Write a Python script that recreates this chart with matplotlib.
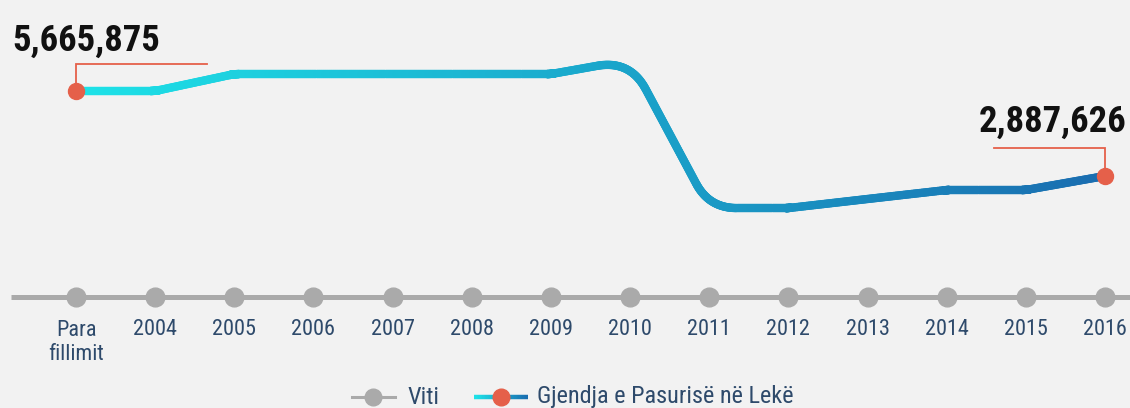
import numpy as np
import matplotlib
matplotlib.use('Agg')
import matplotlib.pyplot as plt
from matplotlib import font_manager as fm
from matplotlib.collections import LineCollection
from matplotlib.colors import LinearSegmentedColormap
from matplotlib.lines import Line2D
import matplotlib.transforms as mtransforms

# ---------------- data ----------------
categories = ['Para\nfillimit', '2004', '2005', '2006', '2007', '2008', '2009',
              '2010', '2011', '2012', '2013', '2014', '2015', '2016']
values = [5665875, 5665875, 6220000, 6220000, 6220000, 6220000, 6220000,
          6680000, 1840000, 1840000, 2136000, 2430000, 2430000, 2887626]
series_label = 'Gjendja e Pasurisë në Lekë'
axis_label = 'Viti'
first_label = '5,665,875'
last_label = '2,887,626'

# ---------------- font ----------------
names = {f.name for f in fm.fontManager.ttflist}
FONT = 'DejaVu Sans'
STRETCH = 'normal'
for cand in ['Roboto Condensed', 'Liberation Sans Narrow', 'Open Sans Condensed']:
    if cand in names:
        FONT = cand
        break
else:
    if any(f.name == 'DejaVu Sans' and str(f.stretch) in ('condensed', '400', 'semi-condensed')
           for f in fm.fontManager.ttflist):
        STRETCH = 'condensed'

BG = '#f2f2f2'
GREY = '#aaaaaa'
ORANGE = '#e5604a'
LABEL = '#2e4a6b'

W, H = 1130, 408
fig = plt.figure(figsize=(W / 100, H / 100), dpi=100, facecolor=BG)
ax = fig.add_axes([0, 0, 1, 1])
ax.set_facecolor(BG)
ax.axis('off')

n = len(categories)
xs = np.arange(n)
# layout: first point at pixel 76, last at 1105 ; first value at y-pixel 91, last at 176
px0, px1 = 76, 1105
dx = (px1 - px0) / (n - 1)
ax.set_xlim(-px0 / dx, (W - px0) / dx)
k = (values[0] - values[-1]) / (176 - 91)
ax.set_ylim(values[0] - (H - 91) * k, values[0] + 91 * k)

def px_to_x(p):
    return (p - px0) / dx

def py_to_y(p):
    return values[0] + (91 - p) * k

# ---------------- rounded gradient line ----------------
fig.canvas.draw()
pts = ax.transData.transform(np.column_stack([xs, values]))
R = 46.0  # corner radius in pixels
path = [pts[0]]
for i in range(1, n - 1):
    p_prev, p, p_next = pts[i - 1], pts[i], pts[i + 1]
    v1 = p_prev - p
    v2 = p_next - p
    l1, l2 = np.hypot(*v1), np.hypot(*v2)
    u_in = -v1 / l1
    u_out = v2 / l2
    turn = np.arccos(np.clip(np.dot(u_in, u_out), -1, 1))
    d = min(R * np.tan(turn / 2), 0.5 * l1, 0.5 * l2)
    if d < 0.5:
        path.append(p)
        continue
    a = p + v1 / l1 * d
    b = p + v2 / l2 * d
    t = np.linspace(0, 1, 24)[:, None]
    curve = (1 - t) ** 2 * a + 2 * (1 - t) * t * p + t ** 2 * b
    path.extend(list(curve))
path.append(pts[-1])
path = np.array(path)
dense = []
for i in range(len(path) - 1):
    seg_len = np.hypot(*(path[i + 1] - path[i]))
    m = max(2, int(seg_len / 2))
    tt = np.linspace(0, 1, m, endpoint=False)[:, None]
    dense.extend(list(path[i] + (path[i + 1] - path[i]) * tt))
dense.append(path[-1])
dense = ax.transData.inverted().transform(np.array(dense))

cmap = LinearSegmentedColormap.from_list('g', ['#1ee3e8', '#1aa8cc', '#1a6db0'])
segs = np.stack([dense[:-1], dense[1:]], axis=1)
mid = (segs[:, 0, 0] + segs[:, 1, 0]) / 2
cols = cmap(mid / (n - 1))
lc = LineCollection(segs, colors=cols, linewidths=6.0, capstyle='round', joinstyle='round', zorder=3)
ax.add_collection(lc)

# ---------------- x axis ----------------
blend = mtransforms.blended_transform_factory(ax.transData, ax.transAxes)
axis_y = 1 - 297 / H
ax.plot([px_to_x(11), px_to_x(W + 5)], [axis_y, axis_y], transform=blend,
        color=GREY, lw=3.6, solid_capstyle='butt', zorder=2)
ax.plot(xs, [axis_y] * n, 'o', transform=blend, color=GREY, ms=13.5, zorder=3)
line_step = 25  # pixels between label lines
for i, lab in enumerate(categories):
    extra = (lab.count('\n')) * line_step
    ax.text(i, 1 - (335 + extra) / H, lab, transform=blend, ha='center', va='baseline',
            fontsize=16, color=LABEL, family=FONT, stretch=STRETCH, linespacing=1.2)

# ---------------- annotations ----------------
ax.plot([0, 0, px_to_x(207)], [values[0], py_to_y(64), py_to_y(64)],
        color=ORANGE, lw=1.3, zorder=2, solid_joinstyle='miter')
ax.plot([n - 1, n - 1, px_to_x(994)], [values[-1], py_to_y(148), py_to_y(148)],
        color=ORANGE, lw=1.3, zorder=2, solid_joinstyle='miter')
ax.plot([0, n - 1], [values[0], values[-1]], 'o', color=ORANGE, ms=11.5, zorder=5)
fig.text(12 / W, 1 - 51 / H, first_label, ha='left', va='baseline', fontsize=26.5,
         fontweight='bold', color='#111111', family=FONT, stretch=STRETCH)
fig.text(1127 / W, 1 - 132 / H, last_label, ha='right', va='baseline', fontsize=26.5,
         fontweight='bold', color='#111111', family=FONT, stretch=STRETCH)

# ---------------- legend ----------------
ly = 1 - 397 / H
fig.add_artist(Line2D([352 / W, 395 / W], [ly, ly], color=GREY, lw=2.2))
fig.add_artist(Line2D([373 / W], [ly], marker='o', ms=12, color=GREY))
fig.text(407 / W, ly, axis_label, ha='left', va='center', fontsize=17.5,
         color=LABEL, family=FONT, stretch=STRETCH)
lx = np.linspace(474, 528, 40) / W
lsegs = np.stack([np.column_stack([lx[:-1], [ly] * 39]), np.column_stack([lx[1:], [ly] * 39])], axis=1)
fig.add_artist(LineCollection(lsegs, colors=cmap(np.linspace(0, 1, 39)), linewidths=3.2,
                              transform=fig.transFigure))
fig.add_artist(Line2D([501 / W], [ly], marker='o', ms=12, color=ORANGE))
fig.text(537 / W, ly, series_label, ha='left', va='center', fontsize=17.5,
         color=LABEL, family=FONT, stretch=STRETCH)

fig.savefig('out.png', dpi=100, facecolor=BG)
